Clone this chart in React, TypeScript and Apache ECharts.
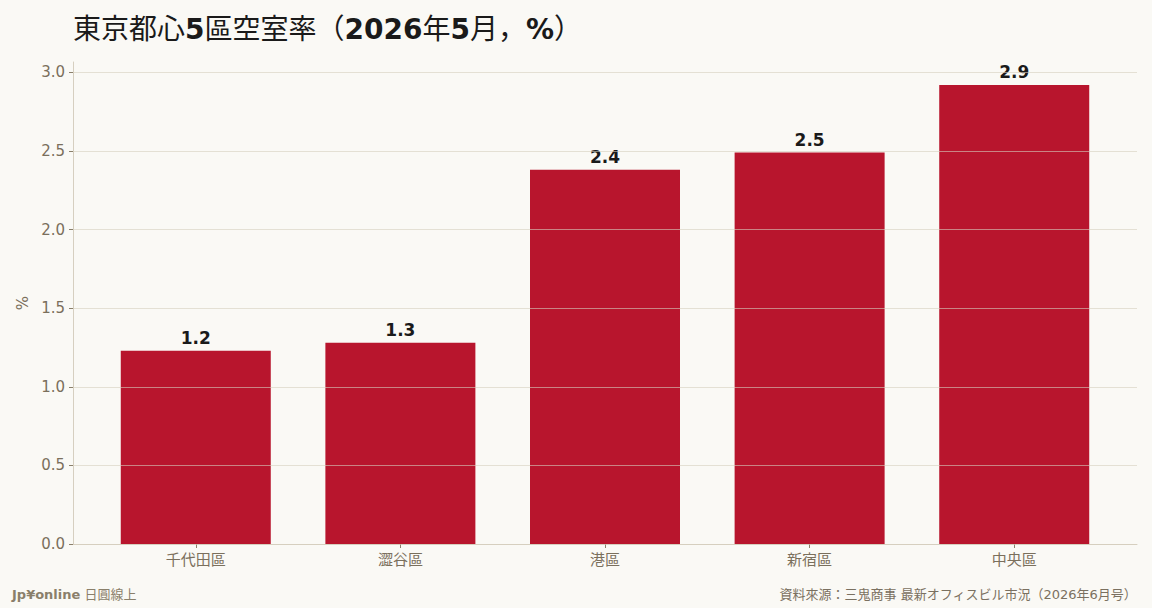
import React, { useEffect, useRef } from "react";
import * as echarts from "echarts";

const wards = ["千代田區", "澀谷區", "港區", "新宿區", "中央區"];
const vacancyRates = [1.23, 1.28, 2.38, 2.49, 2.92];
const yTicks = [0, 0.5, 1.0, 1.5, 2.0, 2.5, 3.0];

const FONT = "'DejaVu Sans', 'Noto Sans CJK JP', sans-serif";
const LABEL = "#7a6f5c";

const App: React.FC = () => {
  const chartRef = useRef<HTMLDivElement | null>(null);

  useEffect(() => {
    document.body.style.margin = "0";
    if (!chartRef.current) return;
    const myChart = echarts.init(chartRef.current, undefined, { renderer: "svg" });

    const positions = wards.map((_, i) => i);

    const option = {
      animation: false,
      backgroundColor: "#faf9f5",
      textStyle: { fontFamily: FONT },
      title: {
        // 數字粗體，漢字常規
        text: "{r|東京都心}{b|5}{r|區空室率（}{b|2026}{r|年}{b|5}{r|月，}{b|%}{r|）}",
        left: 68,
        top: 10,
        textStyle: {
          fontFamily: FONT,
          fontSize: 28,
          color: "#1a1a1a",
          rich: {
            r: { fontFamily: FONT, fontSize: 28, fontWeight: "normal", color: "#1a1a1a" },
            b: { fontFamily: FONT, fontSize: 28, fontWeight: "bold", color: "#1a1a1a" },
          },
        },
      },
      grid: { left: 73, right: 15, top: 62, bottom: 64 },
      xAxis: {
        type: "value",
        min: -0.6,
        max: 4.6,
        splitLine: { show: false },
        axisLine: { show: true, onZero: false, lineStyle: { color: "#d6cfc0" } },
        axisTick: {
          show: true,
          customValues: positions,
          length: 4,
          lineStyle: { color: "#8a7f6a" },
        },
        axisLabel: {
          customValues: positions,
          color: LABEL,
          fontSize: 15,
          margin: 8,
          fontFamily: FONT,
          formatter: (v: number) => wards[Math.round(v)] ?? "",
        },
      },
      yAxis: {
        type: "value",
        min: 0,
        max: 3.066,
        interval: 0.5,
        z: 3,
        name: "%",
        nameLocation: "middle",
        nameGap: 43,
        nameTextStyle: { color: LABEL, fontSize: 15, fontFamily: FONT },
        axisLine: { show: true, onZero: false, lineStyle: { color: "#d6cfc0" } },
        axisTick: { show: true, length: 4, lineStyle: { color: "#8a7f6a" } },
        axisLabel: {
          color: LABEL,
          fontSize: 15,
          margin: 8,
          fontFamily: FONT,
          showMaxLabel: false,
          formatter: (v: number) =>
            yTicks.some((t) => Math.abs(t - v) < 1e-6) ? v.toFixed(1) : "",
        },
        splitLine: {
          show: true,
          showMaxLine: false,
          lineStyle: { color: "rgba(214, 207, 190, 0.6)", width: 1 },
        },
      },
      series: [
        {
          type: "bar",
          data: vacancyRates.map((v, i) => [positions[i], v]),
          barWidth: 150,
          itemStyle: { color: "#b8152d" },
          label: {
            show: true,
            position: "top",
            distance: 4,
            fontSize: 17,
            fontWeight: "bold",
            color: "#1a1a1a",
            fontFamily: FONT,
            formatter: (p: any) => p.value[1].toFixed(1),
          },
        },
      ],
      graphic: [
        {
          type: "text",
          left: 12,
          top: 588,
          style: {
            text: "{b|Jp¥online} 日圓線上",
            fontFamily: FONT,
            fontSize: 13,
            fill: "#8a7f6a",
            rich: {
              b: { fontWeight: "bold", fontSize: 13, fontFamily: FONT, fill: "#8a7f6a" },
            },
          },
        },
        {
          type: "text",
          right: 15,
          top: 588,
          style: {
            text: "資料來源：三鬼商事 最新オフィスビル市況（2026年6月号）",
            fontFamily: FONT,
            fontSize: 13,
            fill: "#7a7060",
          },
        },
      ],
    };

    myChart.setOption(option as any);
    return () => {
      myChart.dispose();
    };
  }, []);

  return <div ref={chartRef} style={{ width: "1152px", height: "608px" }} />;
};

export default App;
